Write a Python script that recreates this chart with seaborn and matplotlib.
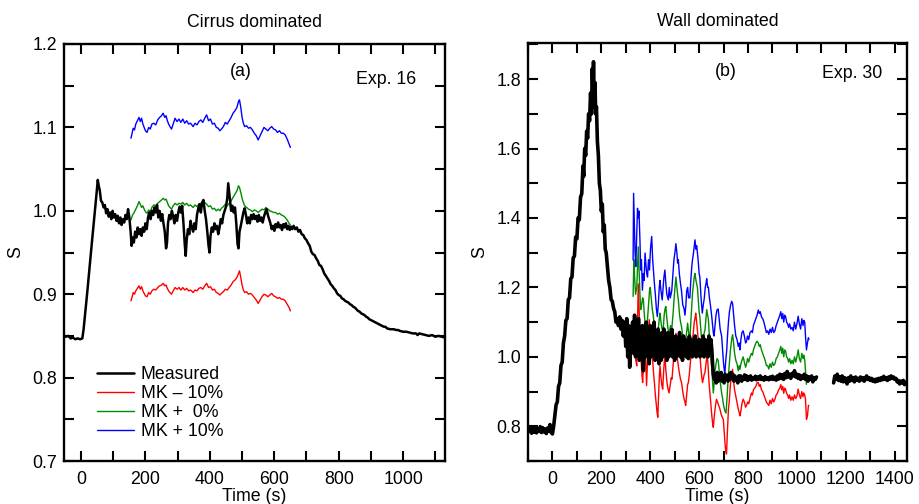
import numpy as np
import pandas as pd
import seaborn as sns
import matplotlib
matplotlib.use("Agg")
import matplotlib.pyplot as plt
from matplotlib.ticker import MultipleLocator

# ---- (a) Exp. 16, cirrus dominated: (time s, S) ----
meas_a = [(-55, 0.851), (-48, 0.849), (-40, 0.850), (-32, 0.847), (-25, 0.848), (-18, 0.846), (-10, 0.847),
          (-3, 0.846), (4, 0.847), (8, 0.858), (20, 0.905), (32, 0.955), (42, 0.995), (48, 1.020), (52, 1.037),
          (55, 1.030), (58, 1.025), (62, 1.012), (66, 1.010), (70, 1.004), (74, 1.007), (78, 0.997), (82, 1.002),
          (86, 0.993), (90, 0.998), (94, 0.990), (98, 1.000), (102, 0.992), (106, 0.996), (110, 0.988), (114, 0.994),
          (118, 0.985), (122, 0.992), (126, 0.983), (130, 0.990), (134, 0.986), (138, 0.995), (142, 0.990),
          (146, 1.002), (150, 0.992), (154, 0.975), (157, 0.958), (160, 0.968), (164, 0.962), (168, 0.975),
          (172, 0.968), (176, 0.980), (180, 0.972), (184, 0.978), (188, 0.970), (192, 0.980), (196, 0.975),
          (200, 0.985), (204, 0.978), (208, 0.992), (212, 0.998), (216, 0.990), (220, 1.000), (224, 0.995),
          (228, 1.004), (232, 0.998), (236, 1.007), (240, 0.992), (244, 1.000), (248, 0.988), (252, 0.996),
          (256, 0.985), (260, 0.975), (264, 0.955), (267, 0.962), (270, 0.985), (274, 0.995), (278, 0.990),
          (282, 1.000), (286, 0.993), (290, 0.985), (294, 0.995), (298, 0.988), (302, 0.998), (306, 1.005),
          (310, 0.998), (314, 1.006), (318, 0.985), (322, 0.960), (325, 0.946), (328, 0.965), (332, 0.978),
          (336, 0.972), (340, 0.988), (344, 0.980), (348, 0.975), (352, 0.985), (356, 0.978), (360, 0.995),
          (364, 1.003), (368, 1.008), (372, 0.998), (376, 1.010), (380, 1.013), (384, 1.000), (388, 0.990),
          (392, 0.975), (396, 0.958), (399, 0.950), (402, 0.970), (406, 0.980), (410, 0.975), (414, 0.985),
          (418, 0.978), (422, 0.982), (426, 0.972), (430, 0.980), (434, 0.990), (438, 0.985), (442, 0.995),
          (446, 1.000), (450, 1.005), (454, 1.015), (457, 1.033), (460, 1.022), (463, 1.010), (466, 1.000),
          (470, 1.006), (474, 0.998), (478, 1.004), (482, 0.985), (486, 0.960), (489, 0.955), (492, 0.975),
          (496, 0.982), (500, 0.990), (504, 0.998), (508, 1.003), (512, 0.995), (516, 0.985), (520, 0.992),
          (524, 0.985), (528, 0.995), (532, 0.990), (536, 0.996), (540, 0.990), (544, 0.994), (548, 0.987),
          (552, 0.995), (556, 0.988), (560, 0.992), (564, 0.986), (568, 0.993), (572, 0.998), (576, 1.002),
          (580, 0.995), (584, 0.990), (588, 0.985), (592, 0.978), (596, 0.982), (600, 0.976), (604, 0.984),
          (608, 0.980), (612, 0.986), (616, 0.980), (620, 0.983), (624, 0.977), (628, 0.984), (632, 0.980),
          (636, 0.985), (640, 0.978), (644, 0.982), (648, 0.977), (652, 0.981), (656, 0.978), (660, 0.982),
          (665, 0.978), (670, 0.980), (675, 0.975), (680, 0.977), (685, 0.972), (690, 0.971), (695, 0.967),
          (700, 0.965), (705, 0.961), (710, 0.958), (715, 0.951), (720, 0.948), (725, 0.947), (730, 0.943),
          (735, 0.940), (740, 0.935), (745, 0.934), (750, 0.930), (755, 0.925), (760, 0.922), (765, 0.919),
          (770, 0.916), (775, 0.912), (780, 0.910), (785, 0.907), (790, 0.905), (795, 0.901), (800, 0.899),
          (805, 0.898), (810, 0.895), (815, 0.894), (820, 0.892), (825, 0.891), (830, 0.890), (835, 0.888),
          (840, 0.887), (845, 0.885), (850, 0.884), (855, 0.882), (860, 0.880), (865, 0.879), (870, 0.877),
          (875, 0.876), (880, 0.875), (885, 0.873), (890, 0.872), (895, 0.870), (900, 0.869), (905, 0.868),
          (910, 0.867), (915, 0.866), (920, 0.865), (930, 0.863), (940, 0.861), (945, 0.861), (950, 0.859),
          (960, 0.858), (970, 0.858), (980, 0.857), (985, 0.857), (990, 0.856), (1000, 0.855), (1010, 0.855),
          (1020, 0.854), (1030, 0.853), (1040, 0.853), (1045, 0.851), (1050, 0.853), (1060, 0.852), (1070, 0.851),
          (1080, 0.850), (1090, 0.851), (1100, 0.849), (1110, 0.850), (1120, 0.849), (1130, 0.848)]

mk0_a = [(155, 0.989), (160, 0.995), (165, 0.998), (170, 1.002), (175, 1.006), (180, 1.011), (184, 1.008),
         (188, 1.004), (192, 1.006), (196, 1.002), (200, 0.999), (205, 0.997), (210, 1.001), (215, 0.999),
         (220, 1.004), (226, 1.007), (232, 1.006), (238, 1.009), (244, 1.011), (250, 1.013), (255, 1.015),
         (260, 1.013), (264, 1.014), (268, 1.010), (272, 1.006), (276, 1.004), (281, 1.002), (286, 1.006),
         (292, 1.009), (298, 1.007), (304, 1.009), (310, 1.008), (316, 1.010), (322, 1.007), (328, 1.009),
         (334, 1.006), (340, 1.007), (348, 1.004), (354, 1.007), (360, 1.005), (366, 1.008), (372, 1.009),
         (378, 1.006), (384, 1.010), (390, 1.008), (396, 1.005), (402, 1.006), (408, 1.002), (414, 1.003),
         (420, 1.000), (426, 1.002), (431, 1.000), (436, 1.003), (442, 1.005), (448, 1.008), (454, 1.006),
         (460, 1.009), (466, 1.012), (472, 1.016), (478, 1.020), (484, 1.024), (489, 1.030), (492, 1.028),
         (496, 1.022), (500, 1.015), (504, 1.010), (508, 1.006), (514, 1.004), (520, 1.002), (526, 1.001),
         (532, 0.999), (538, 1.001), (544, 1.000), (550, 0.998), (556, 1.000), (562, 1.002), (568, 1.001),
         (574, 1.004), (580, 1.002), (586, 1.000), (592, 0.999), (598, 0.998), (604, 0.998), (610, 0.996),
         (616, 0.997), (622, 0.995), (628, 0.994), (634, 0.992), (640, 0.989), (646, 0.985), (650, 0.983)]

mkp10_a = [(155, 1.087), (158, 1.092), (162, 1.099), (166, 1.097), (170, 1.104), (175, 1.108), (180, 1.112),
           (184, 1.107), (188, 1.111), (192, 1.104), (196, 1.100), (200, 1.096), (205, 1.094), (210, 1.100),
           (215, 1.098), (220, 1.104), (226, 1.105), (232, 1.103), (238, 1.109), (244, 1.112), (250, 1.114),
           (255, 1.117), (260, 1.112), (264, 1.114), (268, 1.108), (272, 1.104), (276, 1.101), (281, 1.098),
           (286, 1.104), (292, 1.111), (298, 1.107), (304, 1.110), (310, 1.106), (316, 1.110), (322, 1.105),
           (328, 1.108), (334, 1.104), (340, 1.105), (348, 1.101), (354, 1.105), (360, 1.103), (366, 1.107),
           (372, 1.109), (378, 1.106), (384, 1.111), (390, 1.115), (396, 1.108), (402, 1.110), (408, 1.104),
           (414, 1.105), (420, 1.100), (426, 1.099), (431, 1.096), (436, 1.098), (442, 1.101), (448, 1.106),
           (454, 1.104), (460, 1.108), (466, 1.112), (472, 1.117), (478, 1.120), (484, 1.124), (489, 1.131),
           (492, 1.133), (496, 1.124), (500, 1.112), (504, 1.105), (508, 1.101), (514, 1.102), (520, 1.099),
           (526, 1.100), (532, 1.097), (538, 1.093), (544, 1.090), (550, 1.085), (556, 1.090), (562, 1.095),
           (568, 1.100), (574, 1.098), (580, 1.096), (586, 1.099), (592, 1.101), (598, 1.098), (604, 1.097),
           (610, 1.094), (616, 1.096), (622, 1.093), (628, 1.093), (634, 1.091), (640, 1.086), (646, 1.080),
           (650, 1.076)]

mkm10_a = [(155, 0.892), (158, 0.896), (162, 0.902), (166, 0.900), (170, 0.904), (175, 0.907), (180, 0.910),
           (184, 0.906), (188, 0.909), (192, 0.904), (196, 0.901), (200, 0.898), (205, 0.897), (210, 0.902),
           (215, 0.900), (220, 0.904), (226, 0.906), (232, 0.905), (238, 0.908), (244, 0.910), (250, 0.911),
           (255, 0.913), (260, 0.910), (264, 0.911), (268, 0.907), (272, 0.904), (276, 0.902), (281, 0.900),
           (286, 0.904), (292, 0.908), (298, 0.906), (304, 0.908), (310, 0.905), (316, 0.908), (322, 0.905),
           (328, 0.907), (334, 0.904), (340, 0.905), (348, 0.902), (354, 0.905), (360, 0.904), (366, 0.907),
           (372, 0.908), (378, 0.906), (384, 0.910), (390, 0.913), (396, 0.908), (402, 0.909), (408, 0.905),
           (414, 0.906), (420, 0.902), (426, 0.901), (431, 0.899), (436, 0.901), (442, 0.903), (448, 0.906),
           (454, 0.905), (460, 0.908), (466, 0.911), (472, 0.915), (478, 0.917), (484, 0.920), (489, 0.925),
           (492, 0.928), (496, 0.920), (500, 0.911), (504, 0.905), (508, 0.902), (514, 0.903), (520, 0.900),
           (526, 0.901), (532, 0.899), (538, 0.896), (544, 0.893), (550, 0.889), (556, 0.893), (562, 0.897),
           (568, 0.900), (574, 0.899), (580, 0.897), (586, 0.899), (592, 0.901), (598, 0.898), (604, 0.897),
           (610, 0.895), (616, 0.896), (622, 0.894), (628, 0.894), (634, 0.892), (640, 0.888), (646, 0.884),
           (650, 0.880)]

# ---- (b) Exp. 30, wall dominated ----
meas_b1 = [(-100, 0.800), (-95, 0.785), (-90, 0.798), (-85, 0.780), (-80, 0.795), (-75, 0.783), (-70, 0.797),
           (-65, 0.781), (-60, 0.793), (-55, 0.786), (-50, 0.799), (-45, 0.782), (-40, 0.796), (-35, 0.784),
           (-30, 0.792), (-25, 0.779), (-20, 0.795), (-15, 0.786), (-10, 0.805), (-5, 0.782), (0, 0.778),
           (5, 0.800), (10, 0.830), (15, 0.862), (20, 0.870), (25, 0.915), (30, 0.925), (35, 0.975), (40, 0.985),
           (45, 1.040), (50, 1.060), (55, 1.105), (60, 1.110), (65, 1.165), (70, 1.170), (75, 1.225), (80, 1.230),
           (85, 1.285), (90, 1.290), (95, 1.345), (100, 1.340), (105, 1.400), (110, 1.395), (115, 1.460),
           (120, 1.470), (125, 1.550), (128, 1.520), (132, 1.600), (136, 1.580), (140, 1.650), (144, 1.630),
           (148, 1.700), (152, 1.680), (156, 1.760), (160, 1.700), (163, 1.830), (166, 1.760), (168, 1.850),
           (171, 1.720), (174, 1.790), (177, 1.700), (180, 1.720), (184, 1.620), (188, 1.580), (192, 1.500),
           (196, 1.480), (200, 1.420), (204, 1.440), (208, 1.360), (212, 1.380), (216, 1.310), (220, 1.300),
           (225, 1.260), (230, 1.220), (235, 1.200), (240, 1.165), (245, 1.160), (250, 1.140), (255, 1.130),
           (260, 1.100), (265, 1.110), (270, 1.090), (275, 1.115), (280, 1.080), (285, 1.105), (290, 1.060),
           (295, 1.100), (300, 1.030), (304, 1.110), (308, 1.000), (312, 1.090), (316, 0.970), (320, 1.080),
           (324, 1.020), (328, 1.100), (332, 1.010), (336, 1.120), (340, 1.000), (344, 1.080), (348, 1.020),
           (352, 1.110), (356, 0.990), (360, 1.070), (364, 1.010), (368, 1.090), (372, 0.960), (376, 1.060),
           (380, 1.000), (384, 1.100), (388, 1.010), (392, 1.070), (396, 0.980), (400, 1.090), (404, 1.000),
           (408, 1.060), (412, 1.010), (416, 1.100), (420, 0.990), (424, 1.050), (428, 1.000), (432, 1.080),
           (436, 0.980), (440, 1.060), (444, 0.990), (448, 1.070), (452, 1.000), (456, 1.080), (460, 1.010),
           (464, 1.060), (468, 0.990), (472, 1.070), (476, 1.000), (480, 1.060), (484, 1.010), (488, 1.080),
           (492, 1.000), (496, 1.050), (500, 0.990), (504, 1.060), (508, 1.000), (512, 1.050), (516, 1.010),
           (520, 1.070), (524, 1.000), (528, 1.040), (532, 0.990), (536, 1.060), (540, 1.010), (544, 1.050),
           (548, 1.000), (552, 1.040), (556, 0.995), (560, 1.060), (564, 1.010), (568, 1.050), (572, 1.000),
           (576, 1.040), (580, 1.010), (584, 1.060), (588, 1.000), (592, 1.040), (596, 1.010), (600, 1.050),
           (604, 1.000), (608, 1.040), (612, 1.010), (616, 1.060), (620, 1.000), (624, 1.050), (628, 1.010),
           (632, 1.045), (636, 1.000), (640, 1.060), (644, 1.010), (648, 1.050), (652, 1.020), (655, 0.980),
           (658, 0.950), (662, 0.935), (666, 0.950), (670, 0.925), (674, 0.955), (678, 0.930), (682, 0.950),
           (686, 0.935), (690, 0.955), (694, 0.930), (698, 0.945), (702, 0.925), (706, 0.950), (710, 0.935),
           (714, 0.945), (718, 0.930), (722, 0.950), (726, 0.935), (730, 0.955), (734, 0.940), (738, 0.950),
           (742, 0.930), (746, 0.945), (750, 0.935), (754, 0.940), (758, 0.925), (762, 0.945), (766, 0.935),
           (770, 0.945), (774, 0.930), (778, 0.940), (782, 0.935), (786, 0.948), (790, 0.935), (794, 0.945),
           (798, 0.932), (802, 0.942), (806, 0.935), (810, 0.945), (815, 0.933), (820, 0.940), (825, 0.936),
           (830, 0.944), (835, 0.934), (840, 0.942), (845, 0.936), (850, 0.945), (855, 0.935), (860, 0.940),
           (865, 0.933), (870, 0.943), (875, 0.935), (880, 0.940), (885, 0.934), (890, 0.942), (895, 0.936),
           (900, 0.944), (905, 0.935), (910, 0.941), (915, 0.933), (920, 0.945), (925, 0.936), (930, 0.950),
           (935, 0.938), (940, 0.948), (945, 0.935), (950, 0.952), (955, 0.940), (960, 0.958), (965, 0.942),
           (970, 0.950), (975, 0.938), (980, 0.952), (985, 0.945), (990, 0.960), (995, 0.942), (1000, 0.950),
           (1005, 0.938), (1010, 0.948), (1015, 0.935), (1020, 0.945), (1025, 0.938), (1030, 0.950), (1035, 0.935),
           (1040, 0.945), (1045, 0.930), (1050, 0.942), (1055, 0.935), (1060, 0.945), (1065, 0.928), (1070, 0.940),
           (1075, 0.935), (1080, 0.942)]

meas_b2 = [(1150, 0.925), (1155, 0.945), (1160, 0.935), (1165, 0.950), (1170, 0.932), (1175, 0.942), (1180, 0.930),
           (1185, 0.945), (1190, 0.928), (1195, 0.940), (1200, 0.935), (1205, 0.922), (1210, 0.940), (1215, 0.930),
           (1220, 0.945), (1225, 0.932), (1230, 0.940), (1235, 0.928), (1240, 0.942), (1245, 0.933), (1250, 0.938),
           (1255, 0.930), (1260, 0.942), (1265, 0.934), (1270, 0.940), (1275, 0.930), (1280, 0.938), (1285, 0.945),
           (1290, 0.935), (1295, 0.940), (1300, 0.932), (1305, 0.938), (1310, 0.930), (1315, 0.935), (1320, 0.928),
           (1325, 0.936), (1330, 0.930), (1335, 0.938), (1340, 0.932), (1345, 0.940), (1350, 0.934), (1355, 0.944),
           (1360, 0.935), (1365, 0.940), (1370, 0.932), (1375, 0.942), (1380, 0.936), (1385, 0.945), (1390, 0.938),
           (1395, 0.942), (1400, 0.935), (1405, 0.938), (1410, 0.928), (1415, 0.932), (1420, 0.922), (1425, 0.930),
           (1430, 0.925), (1435, 0.932), (1440, 0.920), (1448, 0.928)]

mkp10_b = [(330, 1.279), (332, 1.471), (335, 1.380), (338, 1.300), (341, 1.260), (344, 1.330), (348, 1.428),
           (351, 1.400), (354, 1.420), (358, 1.335), (361, 1.250), (364, 1.280), (368, 1.192), (372, 1.240),
           (375, 1.220), (379, 1.299), (383, 1.260), (386, 1.240), (389, 1.230), (393, 1.280), (397, 1.250),
           (401, 1.310), (406, 1.347), (410, 1.280), (414, 1.240), (417, 1.212), (421, 1.180), (425, 1.140),
           (429, 1.116), (433, 1.150), (437, 1.200), (440, 1.220), (444, 1.190), (449, 1.164), (453, 1.200),
           (456, 1.230), (460, 1.250), (464, 1.210), (468, 1.180), (474, 1.164), (478, 1.200), (482, 1.170),
           (488, 1.190), (493, 1.240), (497, 1.280), (501, 1.300), (505, 1.326), (509, 1.300), (512, 1.270),
           (515, 1.280), (519, 1.240), (524, 1.210), (528, 1.190), (533, 1.150), (538, 1.140), (542, 1.120),
           (546, 1.150), (549, 1.190), (553, 1.200), (557, 1.170), (562, 1.170), (566, 1.220), (570, 1.260),
           (573, 1.280), (577, 1.300), (580, 1.320), (583, 1.337), (587, 1.310), (590, 1.320), (593, 1.300),
           (597, 1.270), (600, 1.240), (603, 1.230), (607, 1.180), (610, 1.150), (613, 1.126), (617, 1.150),
           (621, 1.168), (625, 1.200), (628, 1.210), (631, 1.225), (635, 1.200), (638, 1.200), (642, 1.170),
           (646, 1.150), (651, 1.120), (655, 1.090), (658, 1.070), (661, 1.060), (665, 1.090), (669, 1.120),
           (673, 1.135), (678, 1.138), (682, 1.110), (686, 1.080), (692, 1.060), (696, 1.020), (700, 0.980),
           (705, 0.950), (709, 0.990), (713, 1.020), (716, 1.060), (720, 1.100), (724, 1.130), (729, 1.150),
           (733, 1.160), (737, 1.153), (741, 1.120), (745, 1.090), (750, 1.060), (755, 1.050), (760, 1.030),
           (764, 1.040), (767, 1.020), (771, 1.050), (775, 1.070), (780, 1.075), (785, 1.060), (790, 1.040),
           (794, 1.045), (798, 1.060), (803, 1.050), (808, 1.070), (814, 1.075), (818, 1.070), (822, 1.090),
           (827, 1.100), (832, 1.110), (837, 1.120), (842, 1.135), (846, 1.125), (850, 1.130), (855, 1.115),
           (860, 1.110), (865, 1.100), (870, 1.085), (875, 1.070), (880, 1.075), (885, 1.065), (890, 1.080),
           (895, 1.070), (900, 1.085), (905, 1.070), (910, 1.075), (915, 1.090), (920, 1.100), (925, 1.110),
           (930, 1.120), (934, 1.130), (938, 1.110), (942, 1.125), (946, 1.100), (950, 1.120), (954, 1.115),
           (958, 1.100), (962, 1.095), (966, 1.085), (970, 1.095), (975, 1.080), (980, 1.085), (985, 1.075),
           (990, 1.100), (995, 1.080), (1000, 1.095), (1005, 1.117), (1010, 1.095), (1015, 1.080), (1020, 1.110),
           (1025, 1.090), (1028, 1.105), (1032, 1.100), (1035, 1.060), (1039, 1.020), (1043, 1.040),
           (1047, 1.055), (1049, 1.050)]

mk0_b = [(330, 1.174), (333, 1.280), (336, 1.230), (340, 1.180), (345, 1.200), (348, 1.260), (351, 1.317),
         (355, 1.240), (358, 1.180), (361, 1.136), (365, 1.150), (369, 1.170), (372, 1.164), (376, 1.120),
         (380, 1.090), (385, 1.068), (389, 1.110), (393, 1.150), (397, 1.190), (400, 1.200), (404, 1.170),
         (408, 1.140), (413, 1.116), (417, 1.080), (421, 1.050), (425, 1.020), (429, 1.050), (433, 1.080),
         (437, 1.110), (440, 1.126), (444, 1.100), (449, 1.078), (453, 1.078), (457, 1.120), (461, 1.140),
         (464, 1.145), (468, 1.110), (473, 1.080), (478, 1.068), (483, 1.090), (489, 1.087), (494, 1.130),
         (499, 1.180), (505, 1.230), (509, 1.200), (512, 1.180), (515, 1.164), (520, 1.120), (524, 1.100),
         (528, 1.087), (533, 1.060), (538, 1.040), (542, 1.030), (547, 1.060), (550, 1.080), (553, 1.097),
         (557, 1.070), (562, 1.050), (566, 1.100), (570, 1.150), (573, 1.184), (577, 1.210), (580, 1.230),
         (583, 1.240), (587, 1.220), (590, 1.210), (593, 1.200), (597, 1.160), (600, 1.130), (603, 1.116),
         (607, 1.080), (610, 1.050), (613, 1.020), (617, 1.050), (621, 1.070), (624, 1.078), (628, 1.110),
         (631, 1.136), (635, 1.120), (638, 1.107), (642, 1.060), (646, 1.010), (651, 0.974), (655, 0.930),
         (658, 0.896), (662, 0.930), (665, 0.960), (669, 0.980), (673, 0.995), (678, 0.990), (682, 0.960),
         (686, 0.930), (692, 0.896), (696, 0.880), (700, 0.860), (705, 0.845), (710, 0.838), (714, 0.880),
         (718, 0.930), (723, 0.974), (728, 1.020), (733, 1.050), (737, 1.064), (741, 1.040), (745, 1.010),
         (750, 0.990), (755, 0.980), (760, 0.960), (764, 0.975), (767, 0.964), (771, 0.980), (775, 0.990),
         (780, 1.000), (785, 0.985), (790, 0.970), (794, 0.980), (798, 0.995), (803, 0.985), (808, 1.000),
         (814, 1.010), (818, 1.005), (822, 1.020), (827, 1.030), (832, 1.040), (837, 1.045), (842, 1.040),
         (846, 1.030), (850, 1.035), (855, 1.020), (860, 1.010), (865, 1.000), (870, 0.990), (875, 0.975),
         (880, 0.975), (885, 0.965), (890, 0.980), (895, 0.970), (900, 0.985), (905, 0.975), (910, 0.980),
         (915, 0.995), (920, 1.000), (925, 1.010), (930, 1.020), (934, 1.030), (938, 1.010), (942, 1.025),
         (946, 1.000), (950, 1.020), (954, 1.015), (958, 1.000), (962, 0.995), (966, 0.985), (970, 0.995),
         (975, 0.980), (980, 0.990), (985, 0.980), (990, 1.000), (995, 0.985), (1000, 1.000), (1005, 1.020),
         (1010, 0.995), (1015, 0.985), (1020, 1.010), (1025, 0.995), (1028, 1.005), (1032, 0.990),
         (1035, 0.960), (1039, 0.921)]

mkm10_b = [(330, 1.068), (333, 1.030), (337, 1.050), (341, 0.990), (345, 0.974), (348, 1.100), (351, 1.210),
           (355, 1.130), (358, 1.058), (362, 1.000), (366, 0.950), (369, 0.926), (373, 0.990), (376, 1.030),
           (379, 1.049), (382, 0.980), (385, 0.917), (389, 0.990), (393, 1.060), (396, 1.107), (400, 1.070),
           (403, 1.050), (406, 1.030), (410, 0.990), (414, 0.950), (417, 0.927), (421, 0.890), (425, 0.860),
           (428, 0.840), (431, 0.826), (434, 0.880), (437, 0.940), (440, 0.974), (444, 0.940), (447, 0.920),
           (451, 0.907), (455, 0.960), (458, 0.990), (460, 1.010), (464, 0.960), (468, 0.930), (472, 0.910),
           (477, 0.896), (482, 0.920), (486, 0.940), (489, 0.936), (494, 0.980), (499, 1.030), (505, 1.068),
           (509, 1.030), (512, 0.990), (515, 0.974), (520, 0.950), (524, 0.935), (528, 0.926), (533, 0.900),
           (538, 0.880), (542, 0.870), (545, 0.860), (549, 0.890), (553, 0.920), (556, 0.926), (560, 0.950),
           (565, 0.990), (570, 1.030), (573, 1.050), (576, 1.068), (580, 1.100), (583, 1.110), (586, 1.126),
           (590, 1.100), (594, 1.068), (598, 1.040), (603, 1.010), (607, 0.970), (611, 0.940), (614, 0.926),
           (618, 0.940), (621, 0.950), (624, 0.955), (628, 0.980), (633, 1.010), (637, 0.970), (640, 0.930),
           (644, 0.896), (648, 0.860), (652, 0.830), (655, 0.810), (658, 0.797), (662, 0.830), (667, 0.860),
           (671, 0.878), (675, 0.870), (680, 0.860), (685, 0.850), (690, 0.835), (695, 0.825), (699, 0.820),
           (703, 0.780), (707, 0.740), (710, 0.725), (712, 0.720), (716, 0.790), (720, 0.850), (723, 0.870),
           (728, 0.920), (733, 0.950), (737, 0.964), (741, 0.930), (745, 0.905), (750, 0.887), (755, 0.870),
           (760, 0.850), (764, 0.840), (767, 0.830), (771, 0.845), (775, 0.865), (780, 0.878), (785, 0.870),
           (790, 0.855), (794, 0.860), (798, 0.870), (803, 0.865), (808, 0.880), (814, 0.896), (818, 0.890),
           (822, 0.905), (827, 0.910), (832, 0.915), (837, 0.925), (842, 0.926), (846, 0.915), (850, 0.920),
           (855, 0.905), (860, 0.900), (865, 0.890), (870, 0.880), (875, 0.870), (880, 0.865), (885, 0.860),
           (890, 0.875), (895, 0.865), (900, 0.880), (905, 0.870), (910, 0.878), (915, 0.890), (920, 0.895),
           (925, 0.905), (930, 0.910), (934, 0.920), (938, 0.905), (942, 0.915), (946, 0.895), (950, 0.910),
           (954, 0.905), (958, 0.895), (962, 0.890), (966, 0.880), (970, 0.890), (975, 0.875), (980, 0.885),
           (985, 0.875), (990, 0.890), (995, 0.880), (1000, 0.887), (1005, 0.907), (1010, 0.890), (1015, 0.880),
           (1020, 0.900), (1025, 0.885), (1028, 0.896), (1032, 0.890), (1035, 0.878), (1039, 0.820),
           (1043, 0.830), (1047, 0.860), (1049, 0.860)]

RED, GREEN, BLUE = "#ff0000", "#008c00", "#0000ff"
FS = 12.8

sns.set_style("ticks")
plt.rcParams["font.family"] = ["Liberation Sans", "DejaVu Sans"]
plt.rcParams.update({"font.size": FS, "text.color": "black", "axes.labelcolor": "black",
                     "xtick.color": "black", "ytick.color": "black", "axes.edgecolor": "black"})


def draw(ax, pts, color, lw, label=None):
    df = pd.DataFrame(pts, columns=["t", "S"])
    sns.lineplot(data=df, x="t", y="S", ax=ax, color=color, lw=lw, estimator=None,
                 sort=False, label=label, legend=label is not None)


def style_axis(ax, xlim, ylim, xmaj, xmin, ymaj, ymin, yfmt):
    ax.set_xlim(*xlim)
    ax.set_ylim(*ylim)
    ax.xaxis.set_major_locator(MultipleLocator(xmaj))
    ax.xaxis.set_minor_locator(MultipleLocator(xmin))
    ax.yaxis.set_major_locator(MultipleLocator(ymaj))
    ax.yaxis.set_minor_locator(MultipleLocator(ymin))
    ax.yaxis.set_major_formatter(yfmt)
    ax.tick_params(which="both", direction="in", top=True, right=True,
                   length=7.5, width=1.5, labelsize=FS, colors="black")
    ax.tick_params(axis="x", pad=7)
    ax.tick_params(axis="y", pad=5)
    for s in ax.spines.values():
        s.set_linewidth(1.7)
        s.set_color("black")
    ax.set_xlabel("Time (s)", fontsize=FS, labelpad=0)
    ax.set_ylabel("S", fontsize=FS, labelpad=6)


fig = plt.figure(figsize=(9.19, 5.04), dpi=100)
ax1 = fig.add_axes([0.0696, 0.0853, 0.4146, 0.8274])
ax2 = fig.add_axes([0.5745, 0.0853, 0.4124, 0.8294])

# panel (a)
draw(ax1, mkm10_a, RED, 1.0, "MK \u2013 10%")
draw(ax1, mk0_a, GREEN, 1.0, "MK +  0%")
draw(ax1, mkp10_a, BLUE, 1.0, "MK + 10%")
draw(ax1, meas_a, "black", 1.8, "Measured")
style_axis(ax1, (-53, 1130), (0.7, 1.2), 200, 100, 0.1, 0.05, "{x:.1f}")
ax1.set_title("Cirrus dominated", fontsize=FS, pad=12)
ax1.text(0.465, 0.933, "(a)", transform=ax1.transAxes, ha="center", va="center", fontsize=FS)
ax1.text(0.845, 0.914, "Exp. 16", transform=ax1.transAxes, ha="center", va="center", fontsize=FS)
h, l = ax1.get_legend_handles_labels()
order = [3, 0, 1, 2]
ax1.legend([h[i] for i in order], [l[i] for i in order], loc="lower left",
           bbox_to_anchor=(0.087, 0.05), frameon=False, borderpad=0, borderaxespad=0,
           handlelength=2.1, handletextpad=0.35, labelspacing=0.12, fontsize=FS)

# panel (b)
draw(ax2, mkm10_b, RED, 1.0)
draw(ax2, mk0_b, GREEN, 1.0)
draw(ax2, mkp10_b, BLUE, 1.0)
draw(ax2, meas_b1, "black", 2.6)
draw(ax2, meas_b2, "black", 2.6)
style_axis(ax2, (-100, 1450), (0.70, 1.904), 200, 100, 0.2, 0.1, "{x:.1f}")
ax2.set_title("Wall dominated", fontsize=FS, pad=12)
ax2.text(0.522, 0.931, "(b)", transform=ax2.transAxes, ha="center", va="center", fontsize=FS)
ax2.text(0.855, 0.928, "Exp. 30", transform=ax2.transAxes, ha="center", va="center", fontsize=FS)

fig.savefig("out.png", dpi=100)
